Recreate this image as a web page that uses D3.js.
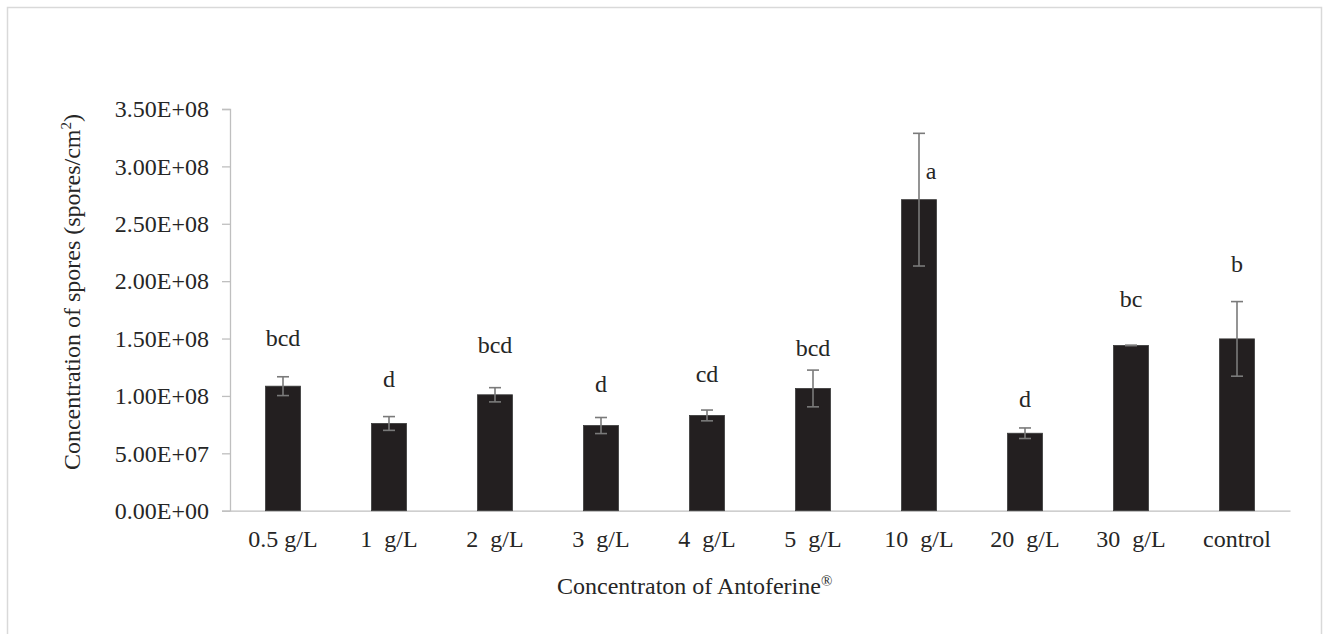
<!DOCTYPE html>
<html>
<head>
<meta charset="utf-8">
<script src="https://cdn.jsdelivr.net/npm/d3@7"></script>
<style>
  html, body { margin: 0; padding: 0; background: #fff; }
  svg { display: block; }
</style>
</head>
<body>
<svg id="chart" width="1328" height="634"></svg>
<script>
// ---- data ----
const categories = ["0.5 g/L", "1  g/L", "2  g/L", "3  g/L", "4  g/L", "5  g/L", "10  g/L", "20  g/L", "30  g/L", "control"];
const means  = [1.085e8, 0.76e8, 1.01e8, 0.742e8, 0.83e8, 1.065e8, 2.71e8, 0.675e8, 1.44e8, 1.497e8];
const errors = [0.082e8, 0.06e8, 0.062e8, 0.07e8, 0.047e8, 0.16e8, 0.578e8, 0.046e8, 0.002e8, 0.325e8];
const letters = ["bcd", "d", "bcd", "d", "cd", "bcd", "a", "d", "bc", "b"];
// value level (y-axis units) at which each letter's baseline sits
const letterLevels = [1.438e8, 1.08e8, 1.374e8, 1.034e8, 1.124e8, 1.351e8, 2.89e8, 0.906e8, 1.777e8, 2.082e8];
const yTicks = [0, 5e7, 1e8, 1.5e8, 2e8, 2.5e8, 3e8, 3.5e8];
const yTickLabels = ["0.00E+00", "5.00E+07", "1.00E+08", "1.50E+08", "2.00E+08", "2.50E+08", "3.00E+08", "3.50E+08"];

const FONT = "Liberation Serif";
const INK = "#262626";
const FS = "24px";
const svg = d3.select("#chart");

// outer chart border
svg.append("rect")
  .attr("x", 7.5).attr("y", 7.5)
  .attr("width", 1314).attr("height", 640)
  .attr("fill", "none").attr("stroke", "#d9d9d9").attr("stroke-width", 1.5);

const x = d3.scaleBand().domain(categories).range([230, 1290]).paddingInner(0.67).paddingOuter(0.335);
const y = d3.scaleLinear().domain([0, 3.5e8]).range([510.7, 109]);

// y axis
const yAxis = d3.axisLeft(y).tickValues(yTicks)
  .tickFormat((d, i) => yTickLabels[i]).tickSize(8).tickPadding(13);
const gy = svg.append("g").attr("transform", "translate(230,0)").call(yAxis);
gy.attr("font-family", FONT).attr("font-size", 24);
gy.select(".domain").attr("stroke", "#bfbfbf").attr("stroke-width", 1.3);
gy.selectAll(".tick line").attr("stroke", "#bfbfbf").attr("stroke-width", 1.3);
gy.selectAll(".tick text").style("font-family", FONT).style("font-size", FS).attr("fill", INK);

// x axis
const xAxis = d3.axisBottom(x).tickSize(0).tickPadding(19);
const gx = svg.append("g").attr("transform", `translate(0,${y(0)})`).call(xAxis);
gx.attr("font-family", FONT).attr("font-size", 24);
gx.select(".domain").attr("stroke", "#bfbfbf").attr("stroke-width", 1.3);
gx.selectAll(".tick text").style("font-family", FONT).style("font-size", FS).attr("fill", INK)
  .style("white-space", "pre");

// bars
svg.append("g").selectAll("rect").data(categories).join("rect")
  .attr("x", d => x(d)).attr("width", x.bandwidth())
  .attr("y", (d, i) => y(means[i]))
  .attr("height", (d, i) => y(0) - y(means[i]))
  .attr("fill", "#231f20").attr("stroke", "#3a3a3a").attr("stroke-width", 0.8);

// error bars
const eg = svg.append("g").attr("stroke", "#7a7a7a").attr("stroke-width", 1.6).attr("fill", "none");
categories.forEach((c, i) => {
  const cx = x(c) + x.bandwidth() / 2;
  const top = y(means[i] + errors[i]), bot = y(means[i] - errors[i]);
  eg.append("line").attr("x1", cx).attr("x2", cx).attr("y1", top).attr("y2", bot);
  eg.append("line").attr("x1", cx - 6).attr("x2", cx + 6).attr("y1", top).attr("y2", top);
  eg.append("line").attr("x1", cx - 6).attr("x2", cx + 6).attr("y1", bot).attr("y2", bot);
});

// significance letters
svg.append("g").selectAll("text").data(categories).join("text")
  .attr("x", (d, i) => {
    const cx = x(d) + x.bandwidth() / 2;
    const inside = letterLevels[i] < means[i] + errors[i] && letterLevels[i] > means[i];
    return inside ? cx + 12 : cx;
  })
  .attr("y", (d, i) => y(letterLevels[i]))
  .attr("text-anchor", "middle")
  .style("font-family", FONT).style("font-size", FS).attr("fill", INK)
  .text((d, i) => letters[i]);

// y axis title
const yt = svg.append("text")
  .attr("transform", "translate(80,292) rotate(-90)")
  .attr("text-anchor", "middle")
  .style("font-family", FONT).style("font-size", FS).attr("fill", INK);
yt.append("tspan").text("Concentration of spores (spores/cm");
yt.append("tspan").text("2").style("font-size", "15px").attr("dy", -9);
yt.append("tspan").text(")").attr("dy", 9);

// x axis title
const xt = svg.append("text")
  .attr("x", 557).attr("y", 594)
  .attr("text-anchor", "start")
  .style("font-family", FONT).style("font-size", FS).attr("fill", INK);
xt.append("tspan").text("Concentraton of Antoferine");
xt.append("tspan").text("®").style("font-size", "15px").attr("dy", -8);
</script>
</body>
</html>
